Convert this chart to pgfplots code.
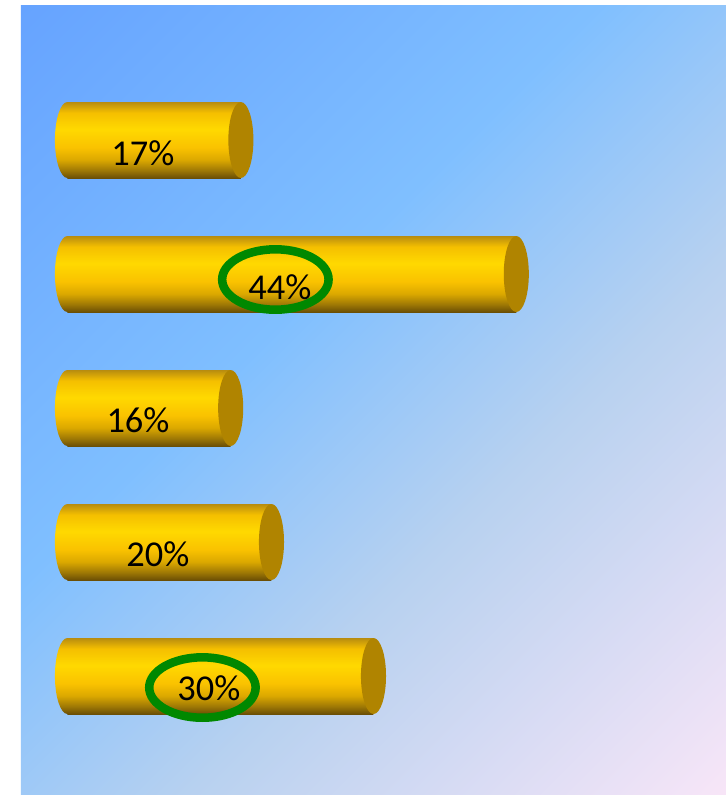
\documentclass[border=0pt]{standalone}
\usepackage{pgfplots}
\usepackage{pgfplotstable}
\pgfplotsset{compat=1.18}
\usepackage{fontspec}
\setmainfont{Carlito}
\pgfdeclareverticalshading{cyl}{100bp}{rgb(0bp)=(0.42,0.31,0.02); rgb(25bp)=(0.42,0.31,0.02); rgb(30bp)=(0.62,0.47,0.02); rgb(37bp)=(0.86,0.66,0.00); rgb(45bp)=(0.98,0.76,0.00); rgb(57bp)=(1.00,0.85,0.00); rgb(68bp)=(0.96,0.75,0.00); rgb(75bp)=(0.72,0.55,0.06); rgb(100bp)=(0.72,0.55,0.06)}
\pgfdeclarehorizontalshading{bg}{100bp}{rgb(0bp)=(0.40,0.64,1.00); rgb(14.6bp)=(0.40,0.64,1.00); rgb(42bp)=(0.50,0.75,1.00); rgb(60bp)=(0.72,0.82,0.94); rgb(85.4bp)=(0.97,0.90,0.97); rgb(100bp)=(0.97,0.90,0.97)}
\definecolor{capc}{HTML}{B08400}
\definecolor{ringc}{HTML}{008800}
\pgfdeclareplotmark{capleft}{\pgfpathellipse{\pgfpointorigin}{\pgfqpoint{9.4pt}{0pt}}{\pgfqpoint{0pt}{28.5pt}}\pgfshadepath{cyl}{0}\pgfusepath{discard}}
\pgfdeclareplotmark{capright}{\pgfpathellipse{\pgfpointorigin}{\pgfqpoint{9.4pt}{0pt}}{\pgfqpoint{0pt}{28.5pt}}\pgfusepathqfill}
\pgfdeclareplotmark{ring}{\pgfsetlinewidth{6.4pt}\pgfpathellipse{\pgfpointorigin}{\pgfqpoint{39.9pt}{0pt}}{\pgfqpoint{0pt}{22.65pt}}\pgfusepathqstroke}
\pgfplotstableread{
value pos zero
30 0 0
20 1 0
16 2 0
44 3 0
17 4 0
}\bars
\pgfplotstableread{
x y label
7.40 3.903 17\%
20.82 2.903 44\%
6.91 1.910 16\%
8.87 0.910 20\%
13.87 -0.090 30\%
}\labels
\begin{document}
\begin{tikzpicture}
\begin{axis}[
  scale only axis, width=544.5pt, height=596.25pt,
  xmin=-6.615, xmax=64.56, ymin=-0.888, ymax=5.045,
  hide axis, clip=false]
\path[fill=white] (axis cs:-6.615,-0.888) rectangle (axis cs:64.56,5.045);
\path[shading=bg,shading angle=-45] (axis cs:-4.557,-0.888) rectangle (axis cs:64.56,5.004);
\addplot[only marks, draw=none, mark=capleft] table[x=zero,y=pos] {\bars};
\addplot[xbar, bar shift=0pt, bar width=57pt, draw=none, shading=cyl] coordinates {(30,0)};
\addplot[xbar, bar shift=0pt, bar width=57pt, draw=none, shading=cyl] coordinates {(20,1)};
\addplot[xbar, bar shift=0pt, bar width=57pt, draw=none, shading=cyl] coordinates {(16,2)};
\addplot[xbar, bar shift=0pt, bar width=57pt, draw=none, shading=cyl] coordinates {(44,3)};
\addplot[xbar, bar shift=0pt, bar width=57pt, draw=none, shading=cyl] coordinates {(17,4)};
\addplot[only marks, draw=none, mark=capright, mark options={draw=none,fill=capc}] table[x=value,y=pos] {\bars};
\addplot[only marks, mark=ring, mark options={draw=ringc,fill=none}] coordinates {(20.38,2.959) (13.23,-0.086)};
\addplot[only marks, mark=none, nodes near coords, point meta=explicit symbolic,
  every node near coord/.style={anchor=center,font=\fontsize{27.3pt}{27.3pt}\selectfont,text=black,inner sep=0pt}]
  table[x=x,y=y,meta=label] {\labels};
\end{axis}
\end{tikzpicture}
\end{document}
